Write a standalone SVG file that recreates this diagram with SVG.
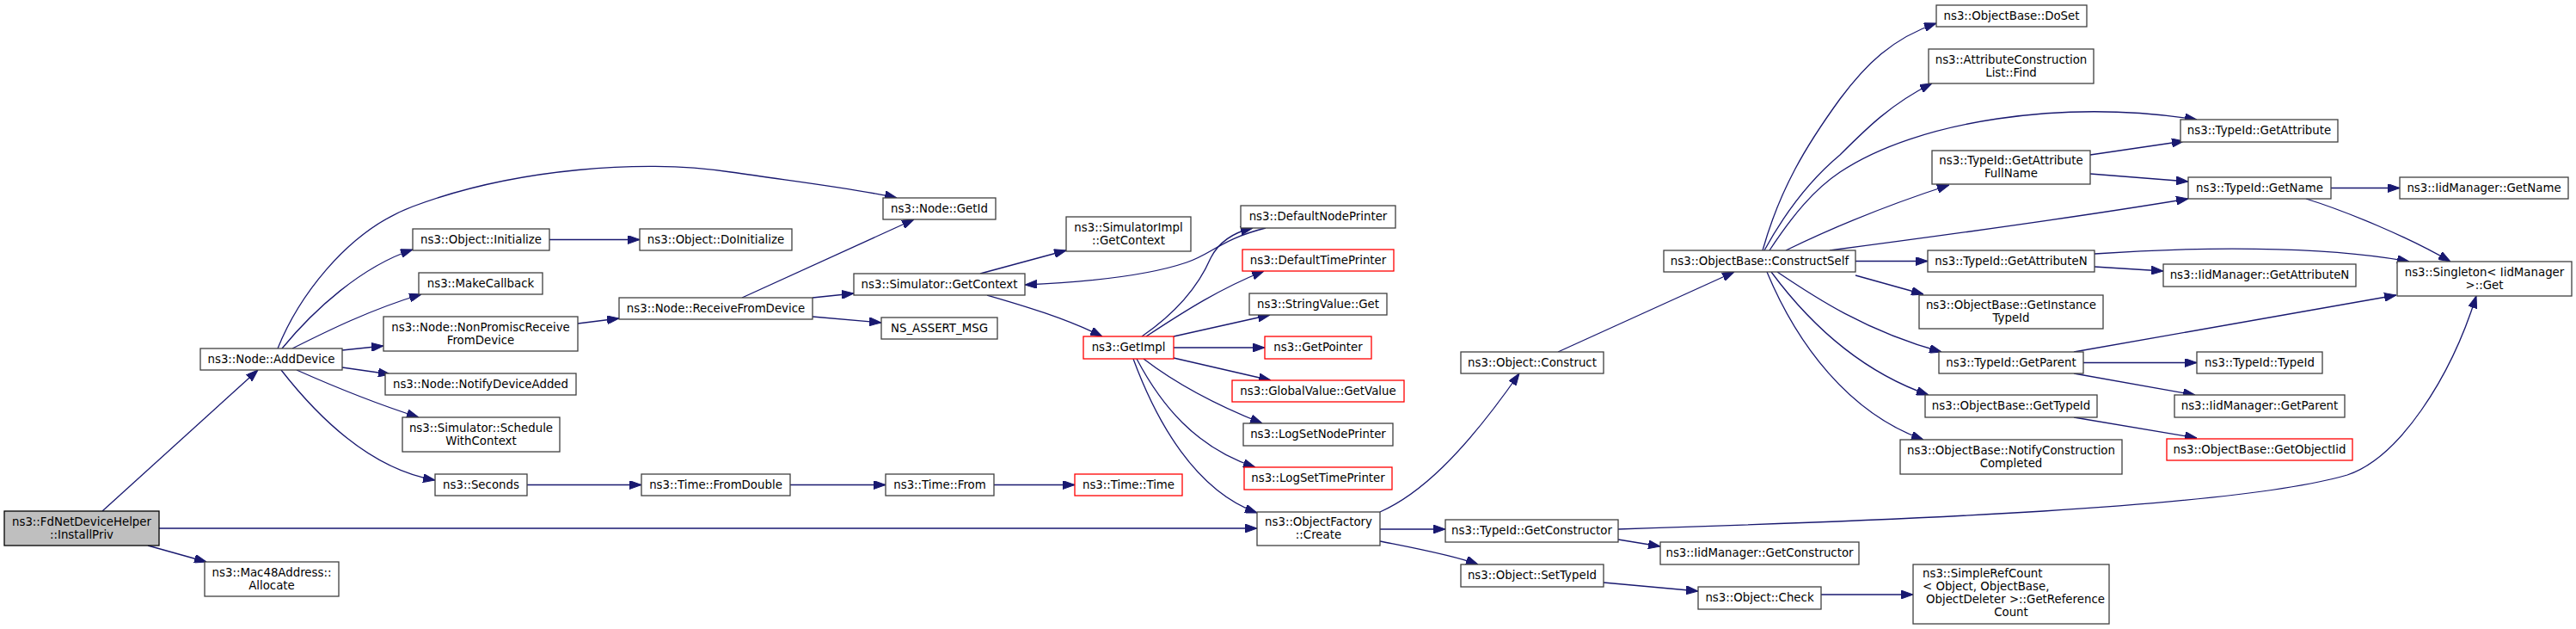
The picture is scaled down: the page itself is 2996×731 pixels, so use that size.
<svg xmlns="http://www.w3.org/2000/svg" width="2996" height="731" viewBox="0 0 2996 731">
<style>
.n rect{fill:#ffffff;stroke:#404040;stroke-width:1.3}
.r rect{fill:#ffffff;stroke:#ff0000;stroke-width:1.3}
.g rect{fill:#bfbfbf;stroke:#000000;stroke-width:1.3}
text{font-family:"DejaVu Sans","Liberation Sans",sans-serif;font-size:13.33px;fill:#000000;text-anchor:middle}
text.l{text-anchor:start}
#edges path{fill:none;stroke:#191970;stroke-width:1.3;marker-end:url(#ah)}
</style>
<defs>
<marker id="ah" markerUnits="userSpaceOnUse" markerWidth="14" markerHeight="10" refX="14" refY="5" orient="auto">
<path d="M0,0 L14,5 L0,10 z" fill="#191970" stroke="#191970" stroke-width="1"/>
</marker>
</defs>
<rect width="2996" height="731" fill="#ffffff"/>
<g id="edges">
<path d="M119,594 L300,430"/>
<path d="M185,614 L1462,614"/>
<path d="M172,634 L240,653"/>
<path d="M323,405 C345,350 400,270 480,240 C600,195 750,185 850,200 C940,213 1000,220 1043,230"/>
<path d="M328,405 C365,360 420,310 480,290"/>
<path d="M340,405 C380,385 430,360 490,342"/>
<path d="M398,407 L446,402"/>
<path d="M398,427 L454,435"/>
<path d="M345,430 C390,450 440,470 487,485"/>
<path d="M327,430 C370,485 430,545 506,558"/>
<path d="M639,278.5 L744,278.5"/>
<path d="M672,376 L720,370"/>
<path d="M863,346 L1063,255"/>
<path d="M945,346 L993,341"/>
<path d="M945,368 L1025,375"/>
<path d="M1140,318 L1240,291"/>
<path d="M1148,343 C1190,355 1240,370 1282,391"/>
<path d="M1472,265 C1420,278 1410,295 1380,305 C1330,322 1260,328 1192,331"/>
<path d="M1328,391 C1370,362 1395,330 1408,300 C1418,280 1435,270 1457,265"/>
<path d="M1333,391 C1380,360 1420,335 1470,315"/>
<path d="M1365,391 L1477,366"/>
<path d="M1365,404 L1471,404"/>
<path d="M1365,416 L1478,442"/>
<path d="M1330,417 C1360,440 1400,465 1468,492"/>
<path d="M1322,417 C1350,470 1390,520 1460,543"/>
<path d="M1318,417 C1345,490 1390,570 1462,596"/>
<path d="M613,563.5 L746,563.5"/>
<path d="M919,563.5 L1030,563.5"/>
<path d="M1156,563.5 L1250,563.5"/>
<path d="M1605,595 C1650,575 1700,530 1767,434"/>
<path d="M1605,615 L1681,615"/>
<path d="M1605,629 C1640,636 1690,645 1719,656"/>
<path d="M1812,409 L2017,316"/>
<path d="M2050,291 C2070,220 2100,170 2140,115 C2170,75 2200,45 2252,27"/>
<path d="M2052,291 C2080,240 2110,205 2140,180 C2170,150 2200,120 2247,97"/>
<path d="M2058,291 C2085,250 2110,220 2140,200 C2230,140 2400,115 2555,139"/>
<path d="M2077,291 C2120,270 2190,240 2267,215"/>
<path d="M2128,291 C2250,275 2400,255 2545,231"/>
<path d="M2158,303.5 L2242,303.5"/>
<path d="M2158,320 L2237,342"/>
<path d="M2067,316 C2110,345 2170,385 2258,409"/>
<path d="M2060,316 C2100,370 2160,430 2243,459"/>
<path d="M2055,316 C2090,400 2150,480 2237,511"/>
<path d="M2431,180 L2540,164"/>
<path d="M2431,202 L2545,211"/>
<path d="M2711,218.5 L2791,218.5"/>
<path d="M2682,231 C2730,246 2800,275 2850,304"/>
<path d="M2436,310 L2516,315"/>
<path d="M2436,295 C2550,287 2700,285 2802,304"/>
<path d="M2423,421.5 L2555,421.5"/>
<path d="M2412,434 L2553,459"/>
<path d="M2412,409 L2787,343"/>
<path d="M2412,485 L2555,509"/>
<path d="M1882,627 L1931,635"/>
<path d="M1882,615 C2200,605 2600,590 2730,552 C2790,532 2850,440 2880,344"/>
<path d="M1865,677 L1975,687"/>
<path d="M2118,691 L2225,691"/>
</g>
<g id="n1" class="g"><rect x="5" y="594" width="180" height="40"/><text x="95" y="611">ns3::FdNetDeviceHelper</text><text x="95" y="626">::InstallPriv</text></g>
<g id="n2" class="n"><rect x="238" y="653" width="156" height="40"/><text x="316" y="670">ns3::Mac48Address::</text><text x="316" y="685">Allocate</text></g>
<g id="n3" class="n"><rect x="233" y="405" width="165" height="25"/><text x="315.5" y="422">ns3::Node::AddDevice</text></g>
<g id="n4" class="n"><rect x="480" y="266" width="159" height="25"/><text x="559.5" y="283">ns3::Object::Initialize</text></g>
<g id="n5" class="n"><rect x="487" y="317" width="144" height="25"/><text x="559" y="334">ns3::MakeCallback</text></g>
<g id="n6" class="n"><rect x="446" y="368" width="226" height="40"/><text x="559" y="385">ns3::Node::NonPromiscReceive</text><text x="559" y="400">FromDevice</text></g>
<g id="n7" class="n"><rect x="448" y="434" width="222" height="25"/><text x="559" y="451">ns3::Node::NotifyDeviceAdded</text></g>
<g id="n8" class="n"><rect x="468" y="485" width="183" height="40"/><text x="559.5" y="502">ns3::Simulator::Schedule</text><text x="559.5" y="517">WithContext</text></g>
<g id="n9" class="n"><rect x="506" y="551" width="107" height="25"/><text x="559.5" y="568">ns3::Seconds</text></g>
<g id="n10" class="n"><rect x="744" y="266" width="177" height="25"/><text x="832.5" y="283">ns3::Object::DoInitialize</text></g>
<g id="n11" class="n"><rect x="720" y="346" width="225" height="25"/><text x="832.5" y="363">ns3::Node::ReceiveFromDevice</text></g>
<g id="n12" class="n"><rect x="746" y="551" width="173" height="25"/><text x="832.5" y="568">ns3::Time::FromDouble</text></g>
<g id="n13" class="n"><rect x="1027" y="230" width="131" height="25"/><text x="1092.5" y="247">ns3::Node::GetId</text></g>
<g id="n14" class="n"><rect x="993" y="318" width="199" height="25"/><text x="1092.5" y="335">ns3::Simulator::GetContext</text></g>
<g id="n15" class="n"><rect x="1025" y="369" width="135" height="25"/><text x="1092.5" y="386">NS_ASSERT_MSG</text></g>
<g id="n16" class="n"><rect x="1030" y="551" width="126" height="25"/><text x="1093" y="568">ns3::Time::From</text></g>
<g id="n17" class="n"><rect x="1240" y="252" width="145" height="40"/><text x="1312.5" y="269">ns3::SimulatorImpl</text><text x="1312.5" y="284">::GetContext</text></g>
<g id="n18" class="r"><rect x="1260" y="391" width="105" height="26"/><text x="1312.5" y="408">ns3::GetImpl</text></g>
<g id="n19" class="r"><rect x="1250" y="551" width="125" height="25"/><text x="1312.5" y="568">ns3::Time::Time</text></g>
<g id="n20" class="n"><rect x="1443" y="239" width="180" height="26"/><text x="1533" y="256">ns3::DefaultNodePrinter</text></g>
<g id="n21" class="r"><rect x="1445" y="290" width="176" height="25"/><text x="1533" y="307">ns3::DefaultTimePrinter</text></g>
<g id="n22" class="n"><rect x="1453" y="341" width="160" height="25"/><text x="1533" y="358">ns3::StringValue::Get</text></g>
<g id="n23" class="r"><rect x="1471" y="391" width="124" height="26"/><text x="1533" y="408">ns3::GetPointer</text></g>
<g id="n24" class="r"><rect x="1433" y="442" width="200" height="25"/><text x="1533" y="459">ns3::GlobalValue::GetValue</text></g>
<g id="n25" class="n"><rect x="1446" y="492" width="174" height="26"/><text x="1533" y="509">ns3::LogSetNodePrinter</text></g>
<g id="n26" class="r"><rect x="1447" y="543" width="172" height="26"/><text x="1533" y="560">ns3::LogSetTimePrinter</text></g>
<g id="n27" class="n"><rect x="1462" y="595" width="143" height="39"/><text x="1533.5" y="611">ns3::ObjectFactory</text><text x="1533.5" y="626">::Create</text></g>
<g id="n28" class="n"><rect x="1699" y="409" width="166" height="25"/><text x="1782" y="426">ns3::Object::Construct</text></g>
<g id="n29" class="n"><rect x="1681" y="604" width="201" height="26"/><text x="1781.5" y="621">ns3::TypeId::GetConstructor</text></g>
<g id="n30" class="n"><rect x="1699" y="656" width="166" height="26"/><text x="1782" y="673">ns3::Object::SetTypeId</text></g>
<g id="n31" class="n"><rect x="1935" y="291" width="223" height="25"/><text x="2046.5" y="308">ns3::ObjectBase::ConstructSelf</text></g>
<g id="n32" class="n"><rect x="1931" y="630" width="231" height="26"/><text x="2046.5" y="647">ns3::IidManager::GetConstructor</text></g>
<g id="n33" class="n"><rect x="1975" y="682" width="143" height="26"/><text x="2046.5" y="699">ns3::Object::Check</text></g>
<g id="n34" class="n"><rect x="2252" y="6" width="175" height="25"/><text x="2339.5" y="23">ns3::ObjectBase::DoSet</text></g>
<g id="n35" class="n"><rect x="2243" y="57" width="192" height="40"/><text x="2339" y="74">ns3::AttributeConstruction</text><text x="2339" y="89">List::Find</text></g>
<g id="n36" class="n"><rect x="2247" y="175" width="184" height="39"/><text x="2339" y="191">ns3::TypeId::GetAttribute</text><text x="2339" y="206">FullName</text></g>
<g id="n37" class="n"><rect x="2242" y="291" width="194" height="25"/><text x="2339" y="308">ns3::TypeId::GetAttributeN</text></g>
<g id="n38" class="n"><rect x="2232" y="343" width="214" height="39"/><text x="2339" y="359">ns3::ObjectBase::GetInstance</text><text x="2339" y="374">TypeId</text></g>
<g id="n39" class="n"><rect x="2255" y="409" width="168" height="25"/><text x="2339" y="426">ns3::TypeId::GetParent</text></g>
<g id="n40" class="n"><rect x="2239" y="459" width="200" height="26"/><text x="2339" y="476">ns3::ObjectBase::GetTypeId</text></g>
<g id="n41" class="n"><rect x="2210" y="511" width="258" height="40"/><text x="2339" y="528">ns3::ObjectBase::NotifyConstruction</text><text x="2339" y="543">Completed</text></g>
<g id="n42" class="n"><rect x="2225" y="656" width="228" height="69"/><text class="l" x="2236" y="671">ns3::SimpleRefCount</text><text class="l" x="2236" y="686">&lt; Object, ObjectBase,</text><text class="l" x="2240" y="701">ObjectDeleter &gt;::GetReference</text><text x="2339" y="716">Count</text></g>
<g id="n43" class="n"><rect x="2536" y="139" width="183" height="26"/><text x="2627.5" y="156">ns3::TypeId::GetAttribute</text></g>
<g id="n44" class="n"><rect x="2545" y="206" width="166" height="25"/><text x="2628" y="223">ns3::TypeId::GetName</text></g>
<g id="n45" class="n"><rect x="2516" y="307" width="224" height="26"/><text x="2628" y="324">ns3::IidManager::GetAttributeN</text></g>
<g id="n46" class="n"><rect x="2555" y="409" width="146" height="25"/><text x="2628" y="426">ns3::TypeId::TypeId</text></g>
<g id="n47" class="n"><rect x="2529" y="459" width="198" height="26"/><text x="2628" y="476">ns3::IidManager::GetParent</text></g>
<g id="n48" class="r"><rect x="2520" y="510" width="216" height="25"/><text x="2628" y="527">ns3::ObjectBase::GetObjectIid</text></g>
<g id="n49" class="n"><rect x="2791" y="206" width="196" height="25"/><text x="2889" y="223">ns3::IidManager::GetName</text></g>
<g id="n50" class="n"><rect x="2788" y="304" width="203" height="40"/><text x="2889.5" y="321">ns3::Singleton&lt; IidManager</text><text x="2889.5" y="336">&gt;::Get</text></g>
</svg>
